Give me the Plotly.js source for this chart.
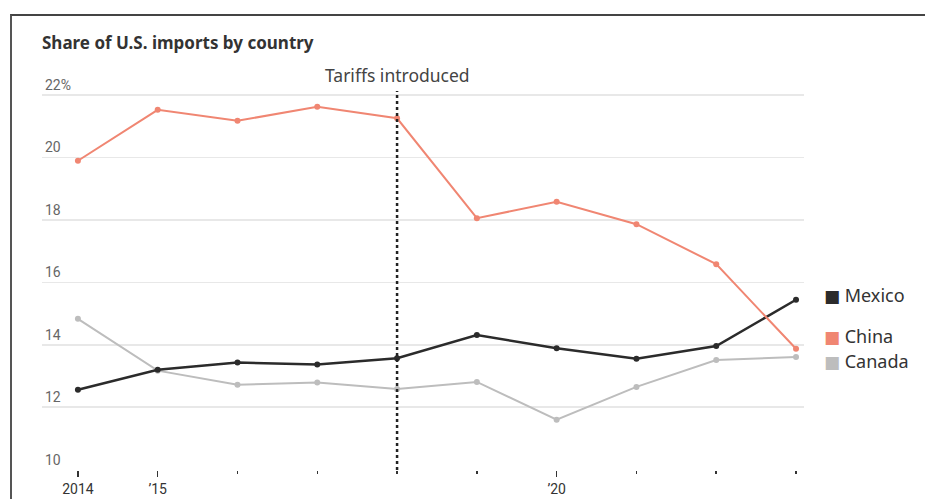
<!DOCTYPE html>
<html>
<head>
<meta charset="utf-8">
<script src="https://cdn.plot.ly/plotly-3.0.1.min.js"></script>
<style>
  html, body { margin: 0; padding: 0; background: #fff; }
  #wrap { position: relative; width: 925px; height: 499px; overflow: hidden; }
  #frame { position: absolute; left: 10px; top: 14px; right: -4px; bottom: -4px;
           border-top: 2px solid #444; border-left: 2px solid #555; }
  #chart { position: absolute; left: 0; top: 0; width: 925px; height: 499px; }
</style>
</head>
<body>
<div id="wrap">
  <div id="frame"></div>
  <div id="chart"></div>
</div>
<script>
// Share of U.S. imports by country, percent
const years = [2014, 2015, 2016, 2017, 2018, 2019, 2020, 2021, 2022, 2023];
const mexico = [12.56, 13.2, 13.43, 13.37, 13.57, 14.31, 13.89, 13.55, 13.96, 15.44];
const china  = [19.89, 21.52, 21.17, 21.62, 21.25, 18.05, 18.58, 17.86, 16.58, 13.87];
const canada = [14.83, 13.17, 12.72, 12.79, 12.58, 12.81, 11.6, 12.65, 13.51, 13.61];

const yTicks = [10, 12, 14, 16, 18, 20, 22];
const yTickText = ['10', '12', '14', '16', '18', '20', '22%'];
const xTicks = [2014, 2015, 2020];
const xTickText = ['2014', '\u201915', '\u201920'];
const tariffYear = 2018;

const colors = { Mexico: '#2b2b2b', China: '#f08672', Canada: '#bdbdbd' };
const narrow = 'Roboto, "Liberation Sans", sans-serif';
const sans = '"Noto Sans", "Open Sans", sans-serif';

// plot area: value 10 sits at the bottom edge, the top leaves room for the 22% label
const yTop = 22.7;

function series(name, values, width) {
  return {
    type: 'scatter', mode: 'lines+markers', name: name,
    x: years, y: values,
    line: { color: colors[name], width: width },
    marker: { color: colors[name], size: 6 },
    showlegend: false, hoverinfo: 'skip'
  };
}

const traces = [
  series('Canada', canada, 2),
  series('Mexico', mexico, 2.5),
  series('China', china, 2)
];

// Labels for the series, set beside the line ends
const labels = [
  { name: 'Mexico', y: 15.6 },
  { name: 'China', y: 14.27 },
  { name: 'Canada', y: 13.47 }
].map(l => ({
  xref: 'paper', yref: 'y', x: 1.023, y: l.y,
  xanchor: 'left', yanchor: 'middle', showarrow: false,
  text: '<span style="color:' + colors[l.name] + ';font-family:DejaVu Sans;font-size:17px">\u25A0</span> ' + l.name,
  font: { family: sans, size: 18, color: '#333' }
}));

const layout = {
  width: 925, height: 499,
  margin: { l: 42, r: 121, t: 73, b: 29 },
  paper_bgcolor: 'rgba(0,0,0,0)',
  plot_bgcolor: 'rgba(0,0,0,0)',
  title: {
    text: '<b>Share of U.S. imports by country</b>',
    font: { family: sans, size: 17, color: '#333' },
    xref: 'container', yref: 'container',
    x: 42 / 925, xanchor: 'left', y: 1 - 43 / 499, yanchor: 'middle'
  },
  xaxis: {
    range: [2013.55, 2023.1],
    tickvals: xTicks, ticktext: xTickText,
    ticks: 'outside', ticklen: 6, tickwidth: 1.5, tickcolor: '#333',
    minor: { dtick: 1, ticks: 'outside', ticklen: 3, tickwidth: 1.5, tickcolor: '#333', showgrid: false },
    showgrid: false, zeroline: false, showline: false,
    tickfont: { family: narrow, size: 14, color: '#333' }
  },
  yaxis: {
    range: [9.99, yTop],
    tickvals: yTicks, ticktext: yTickText,
    ticklabelposition: 'inside top',
    showgrid: true, gridcolor: '#e8e8e8', gridwidth: 1.5,
    zeroline: false, showline: false, ticks: '',
    tickfont: { family: narrow, size: 14, color: '#666' }
  },
  shapes: [{
    type: 'line', xref: 'x', yref: 'y',
    x0: tariffYear, x1: tariffYear, y0: 9.99, y1: 22.12,
    line: { color: '#222', width: 2.5, dash: 'dot' }
  }],
  annotations: [{
    xref: 'x', yref: 'y', x: tariffYear, y: 22.63,
    xanchor: 'center', yanchor: 'middle', showarrow: false,
    text: 'Tariffs introduced',
    font: { family: sans, size: 17.5, color: '#444' }
  }].concat(labels)
};

Plotly.newPlot('chart', traces, layout, { staticPlot: true, displayModeBar: false });
</script>
</body>
</html>
